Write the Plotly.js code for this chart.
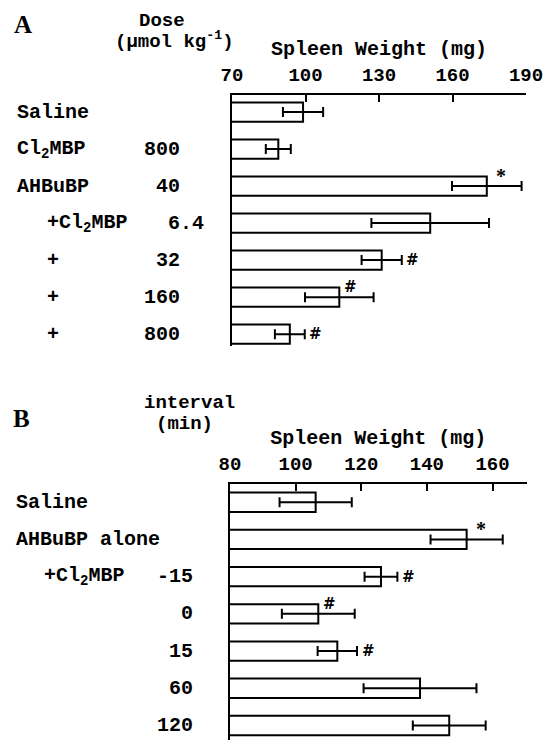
<!DOCTYPE html>
<html>
<head>
<meta charset="utf-8">
<script src="https://cdn.plot.ly/plotly-3.0.1.min.js"></script>
<style>html,body{margin:0;padding:0;background:#fff;}#chart{width:552px;height:740px;}</style>
</head>
<body>
<div id="chart"></div>
<script>
// ---- Panel A data ----
const catA = ['Saline', 'Cl<sub>2</sub>MBP', 'AHBuBP', '+Cl<sub>2</sub>MBP', '+', '+', '+'];
const doseA = ['', '800', '40', '6.4', '32', '160', '800'];
const meanA = [99, 88.9, 174, 150.9, 131.1, 113.8, 93.6];
const errA = [8.2, 5.1, 14.2, 24, 8.2, 14, 6.1];
const sigA = ['', '', '*', '', '#', '#', '#'];
const sigPosA = ['', '', 'top', '', 'side', 'top', 'side'];
const ticksA = [70, 100, 130, 160, 190];

// ---- Panel B data ----
const catB = ['Saline', 'AHBuBP alone', '+Cl<sub>2</sub>MBP', '', '', '', ''];
const intervalB = ['', '', '-15', '0', '15', '60', '120'];
const meanB = [106.1, 152.1, 126, 106.9, 112.7, 137.9, 146.8];
const errB = [11, 11, 5, 11.1, 6, 17.2, 11.1];
const sigB = ['', '*', '#', '#', '#', '', ''];
const sigPosB = ['', 'top', 'side', 'top', 'side', '', ''];
const ticksB = [80, 100, 120, 140, 160];

const W = 552, H = 740;
const MONO = 'Liberation Mono, Courier New, monospace';
const SERIF = 'Liberation Serif, Times New Roman, serif';
const SANS = 'DejaVu Sans, Liberation Sans, sans-serif';
const px = x => x / W;
const py = y => 1 - y / H;
const idx = a => a.map((_, i) => i);

function barTrace(means, errs, xa, ya) {
  return {
    type: 'bar', orientation: 'h',
    x: means, y: idx(means),
    xaxis: xa, yaxis: ya,
    width: 0.52,
    marker: {color: '#ffffff', line: {color: '#000000', width: 2}},
    error_x: {type: 'data', array: errs, visible: true, color: '#000000', thickness: 2, width: 5},
    hoverinfo: 'skip', showlegend: false
  };
}

const annotations = [];
function addLabels(cats, nums, ya, leftX, indentX, numRightX) {
  cats.forEach((c, i) => {
    if (c) annotations.push({
      text: c, xref: 'paper', yref: ya, x: px(c.startsWith('+') ? indentX : leftX), y: i,
      xanchor: 'left', yanchor: 'middle', showarrow: false,
      font: {family: MONO, size: 20, color: '#000', weight: 'bold'}
    });
  });
  nums.forEach((n, i) => {
    if (!n) return;
    const dot = n.indexOf('.');
    const extra = dot >= 0 ? (n.length - dot) * 12 : 0; // decimal alignment
    annotations.push({
      text: n, xref: 'paper', yref: ya, x: px(numRightX + extra), y: i,
      xanchor: 'right', yanchor: 'middle', showarrow: false,
      font: {family: MONO, size: 20, color: '#000', weight: 'bold'}
    });
  });
}
function addSig(sig, pos, means, errs, xa, ya) {
  sig.forEach((s, i) => {
    if (!s) return;
    const top = pos[i] === 'top';
    annotations.push({
      text: s, xref: xa, yref: ya,
      x: top ? means[i] : means[i] + errs[i], y: i,
      xanchor: 'center', yanchor: 'middle', showarrow: false,
      xshift: s === '*' ? 14 : 11, yshift: top ? 10 : 0,
      font: s === '*' ? {family: SERIF, size: 20, color: '#000', weight: 'bold'}
                      : {family: SANS, size: 15, color: '#000', weight: 'bold'}
    });
  });
}

addLabels(catA, doseA, 'y', 15, 45, 182);
addLabels(catB, intervalB, 'y2', 14, 42, 195);
addSig(sigA, sigPosA, meanA, errA, 'x', 'y');
addSig(sigB, sigPosB, meanB, errB, 'x2', 'y2');

// header texts
function txt(t, x, y, size, fam) {
  annotations.push({text: t, xref: 'paper', yref: 'paper', x: px(x), y: py(y),
    xanchor: 'center', yanchor: 'middle', showarrow: false,
    font: {family: fam || MONO, size: size, color: '#000', weight: 'bold'}});
}
txt('A', 23, 25, 25, SERIF);
txt('B', 21, 418, 25, SERIF);
txt('Dose', 162, 21, 19);
txt('(\u00b5mol kg<sup>-1</sup>)', 174, 40, 19);
txt('interval', 189, 403, 19);
txt('(min)', 184, 424, 19);

function xAxis(domain, range, ticks, anchor) {
  return {
    domain: domain, range: range, side: 'top', anchor: anchor,
    tickmode: 'array', tickvals: ticks, ticktext: ticks.map(String),
    showline: true, linewidth: 2, linecolor: '#000', mirror: false,
    ticks: 'inside', ticklen: 7, tickwidth: 2, tickcolor: '#000',
    ticklabelstandoff: 4,
    showgrid: false, zeroline: false, fixedrange: true,
    tickfont: {family: MONO, size: 19, color: '#000', weight: 'bold'},
    title: {text: 'Spleen Weight (mg)', font: {family: MONO, size: 20, color: '#000', weight: 'bold'}, standoff: 4}
  };
}
function yAxis(domain, range, anchor) {
  return {
    domain: domain, range: range, anchor: anchor,
    showline: true, linewidth: 2, linecolor: '#000',
    ticks: '', showticklabels: false, showgrid: false, zeroline: false, fixedrange: true
  };
}

const layout = {
  width: W, height: H,
  margin: {l: 0, r: 0, t: 0, b: 0},
  paper_bgcolor: '#fff', plot_bgcolor: '#fff',
  showlegend: false,
  xaxis: xAxis([px(232), px(526)], [70, 190], ticksA, 'y'),
  yaxis: yAxis([py(346), py(95)], [6.32, -0.46], 'x'),
  xaxis2: xAxis([px(230), px(526.7)], [80, 170.4], ticksB, 'y2'),
  yaxis2: yAxis([0, py(484)], [6.39, -0.49], 'x2'),
  annotations: annotations
};

Plotly.newPlot('chart', [barTrace(meanA, errA, 'x', 'y'), barTrace(meanB, errB, 'x2', 'y2')], layout,
  {staticPlot: true, displayModeBar: false});
</script>
</body>
</html>
